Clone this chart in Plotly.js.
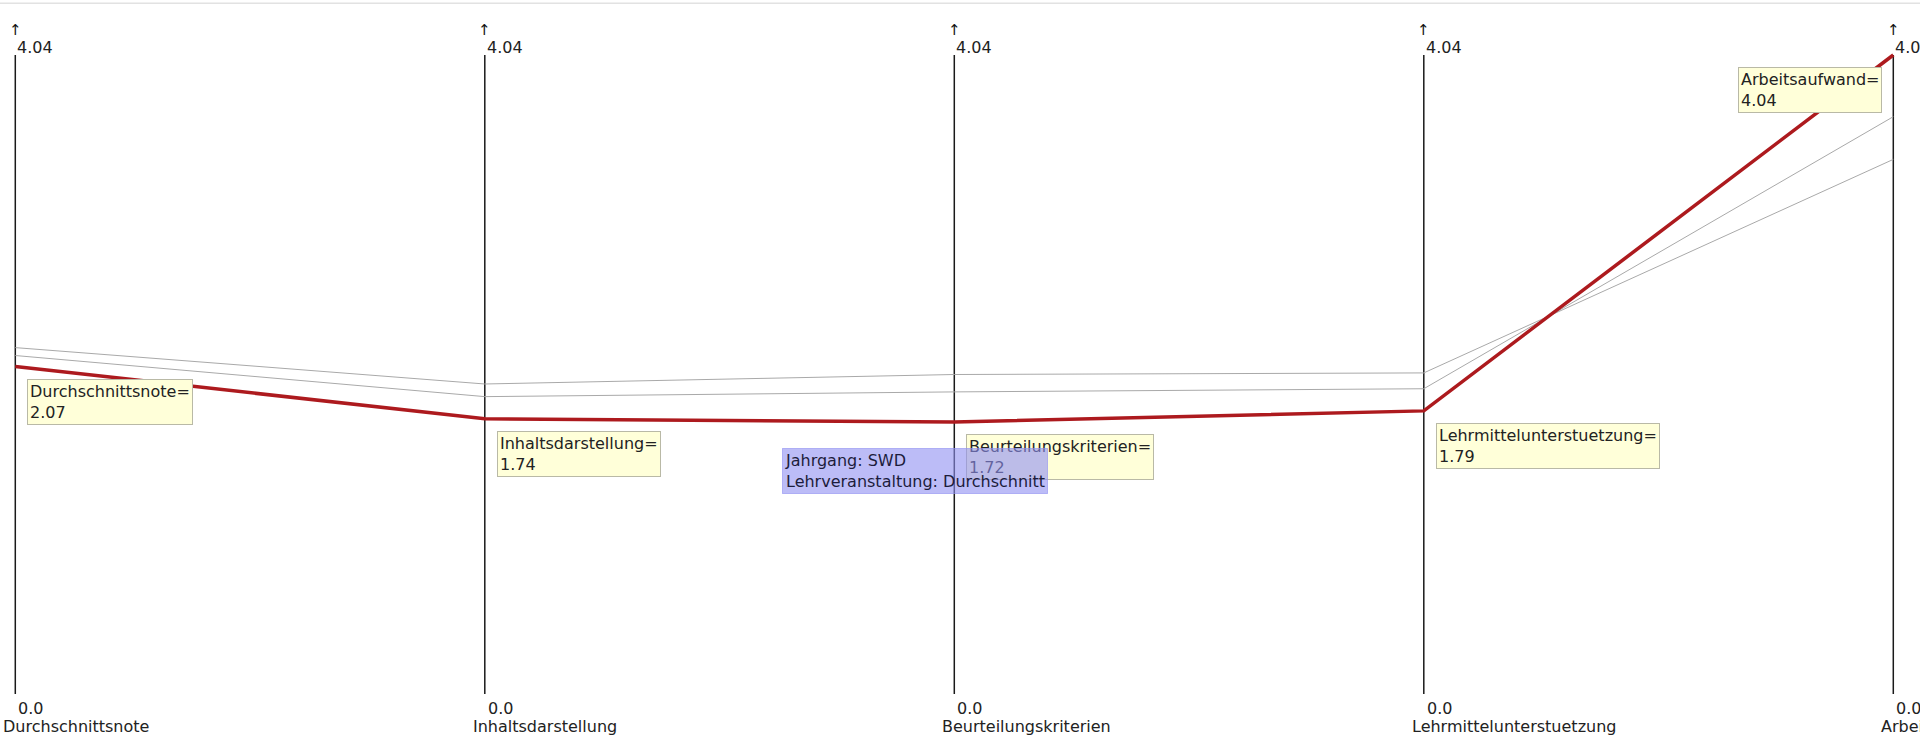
<!DOCTYPE html>
<html>
<head>
<meta charset="utf-8">
<script src="https://cdn.plot.ly/plotly-3.0.1.min.js"></script>
<style>
  html, body { margin: 0; padding: 0; background: #ffffff; }
  #chart { width: 1920px; height: 736px; }
</style>
</head>
<body>
<div id="chart"></div>
<script>
// ---- data ----
const dimensions = ['Durchschnittsnote', 'Inhaltsdarstellung', 'Beurteilungskriterien', 'Lehrmittelunterstuetzung', 'Arbeitsaufwand'];
const axisMin = 0.0;
const axisMax = 4.04;
const axisMinLabels = ['0.0', '0.0', '0.0', '0.0', '0.0'];
const axisMaxLabels = ['4.04', '4.04', '4.04', '4.04', '4.04'];
// highlighted record (Jahrgang: SWD, Lehrveranstaltung: Durchschnitt)
const highlighted = [2.07, 1.74, 1.72, 1.79, 4.04];
// other records
const otherA = [2.19, 1.96, 2.02, 2.03, 3.38];
const otherB = [2.14, 1.88, 1.91, 1.93, 3.65];
const tooltipLines = ['Jahrgang: SWD', 'Lehrveranstaltung: Durchschnitt'];

// ---- figure ----
const idx = dimensions.map((d, i) => i);
const font = 'DejaVu Sans, Lucida Grande, sans-serif';
const traces = [];

// vertical axes
idx.forEach(i => {
  traces.push({
    x: [i, i], y: [axisMin, axisMax], mode: 'lines', type: 'scatter',
    line: {color: '#1a1a1a', width: 1.5}, hoverinfo: 'skip', showlegend: false
  });
});
// other records
[otherA, otherB].forEach(s => {
  traces.push({
    x: idx, y: s, mode: 'lines', type: 'scatter',
    line: {color: '#a9a9a9', width: 1}, hoverinfo: 'skip', showlegend: false
  });
});
// highlighted record
traces.push({
  x: idx, y: highlighted, mode: 'lines', type: 'scatter',
  line: {color: '#ad1a1e', width: 3.5}, hoverinfo: 'skip', showlegend: false
});

const annotations = [];
idx.forEach(i => {
  annotations.push({x: i, y: axisMax, xref: 'x', yref: 'y', text: '\u2191', showarrow: false,
    xanchor: 'center', yanchor: 'middle', xshift: 0, yshift: 25, font: {family: font, size: 15, color: '#111'}});
  annotations.push({x: i, y: axisMax, xref: 'x', yref: 'y', text: axisMaxLabels[i], showarrow: false,
    xanchor: 'left', yanchor: 'middle', xshift: 0, yshift: 8, font: {family: font, size: 16, color: '#222'}});
  annotations.push({x: i, y: axisMin, xref: 'x', yref: 'y', text: axisMinLabels[i], showarrow: false,
    xanchor: 'left', yanchor: 'middle', xshift: 1, yshift: -14, font: {family: font, size: 16, color: '#222'}});
  annotations.push({x: i, y: axisMin, xref: 'x', yref: 'y', text: dimensions[i], showarrow: false,
    xanchor: 'left', yanchor: 'middle', xshift: -14, yshift: -32, font: {family: font, size: 16, color: '#222'}});
});
// value tooltips
idx.forEach(i => {
  const last = i === idx.length - 1;
  annotations.push({
    x: i, y: highlighted[i], xref: 'x', yref: 'y',
    text: dimensions[i] + '=<br>' + highlighted[i].toFixed(2),
    showarrow: false, align: 'left',
    xanchor: last ? 'right' : 'left', yanchor: 'top',
    xshift: last ? -11 : 12, yshift: -12,
    bgcolor: '#ffffd9', bordercolor: '#b9b9a6', borderwidth: 1, borderpad: 2,
    font: {family: font, size: 16, color: '#222'}
  });
});
// hover tooltip (record identity)
annotations.push({
  x: 2, y: highlighted[2], xref: 'x', yref: 'y',
  text: tooltipLines.join('<br>'), showarrow: false, align: 'left',
  xanchor: 'left', yanchor: 'top', xshift: -172, yshift: -26,
  bgcolor: 'rgba(143,143,242,0.6)', bordercolor: 'rgba(143,143,242,0.6)', borderwidth: 1, borderpad: 2,
  font: {family: font, size: 16, color: '#1c1c3c'}
});

const pxX = 469.5, x0 = 15.3;
const pxY = (694 - 55) / (axisMax - axisMin);
const layout = {
  width: 1920, height: 736, autosize: false,
  margin: {l: 0, r: 0, t: 0, b: 0, pad: 0},
  paper_bgcolor: '#ffffff', plot_bgcolor: '#ffffff',
  showlegend: false, hovermode: false,
  xaxis: {visible: false, range: [-x0 / pxX, (1920 - x0) / pxX], fixedrange: true},
  yaxis: {visible: false, range: [axisMin - (736 - 694) / pxY, axisMax + 55 / pxY], fixedrange: true},
  shapes: [{type: 'line', xref: 'paper', yref: 'paper', x0: 0, x1: 1, y0: 1 - 3.3 / 736, y1: 1 - 3.3 / 736,
    line: {color: '#e2e2e2', width: 1.5}}],
  annotations: annotations
};

Plotly.newPlot('chart', traces, layout, {displayModeBar: false, staticPlot: true});
</script>
</body>
</html>
